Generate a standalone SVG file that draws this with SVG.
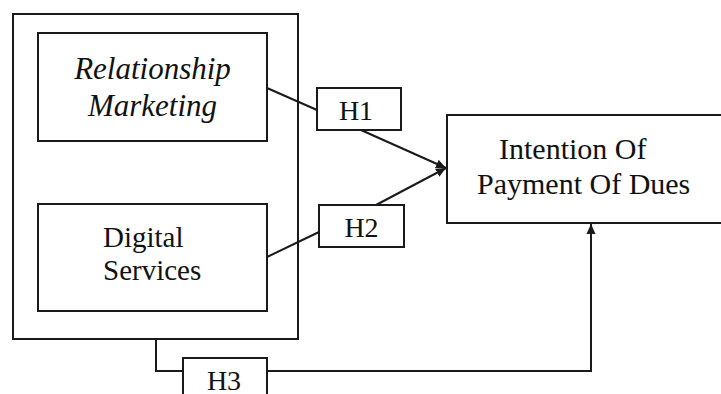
<svg xmlns="http://www.w3.org/2000/svg" width="721" height="394" viewBox="0 0 721 394">
  <style>
    .box { fill: #fff; stroke: #1a1a1a; stroke-width: 2; }
    .line { fill: none; stroke: #1a1a1a; stroke-width: 2; }
    .t { font-family: "Liberation Serif", "Times New Roman", serif; fill: #111; }
    .big { font-size: 29px; }
    .it { font-size: 31px; font-style: italic; }
    .h { font-size: 28px; }
    .int { font-size: 30px; }
  </style>
  <defs>
    <marker id="arr" viewBox="0 0 10 10" refX="10" refY="5" markerWidth="10" markerHeight="10" markerUnits="userSpaceOnUse" orient="auto">
      <path d="M0,0.5 L10,5 L0,9.5 Z" fill="#1a1a1a"/>
    </marker>
  </defs>
  <rect width="721" height="394" fill="#fff"/>

  <g id="group">
    <rect class="box" x="13" y="14" width="285" height="325"/>
  </g>

  <g id="relationship-marketing">
    <rect class="box" x="38" y="33" width="229" height="108"/>
    <text class="t it" x="152.5" y="79" text-anchor="middle">Relationship</text>
    <text class="t it" x="152.5" y="116" text-anchor="middle">Marketing</text>
  </g>

  <g id="digital-services">
    <rect class="box" x="38" y="204" width="229" height="107"/>
    <text class="t big" x="103" y="247">Digital</text>
    <text class="t big" x="103" y="280">Services</text>
  </g>

  <g id="intention">
    <path class="line" d="M723,115 H447 V223 H723"/>
    <text class="t int" x="499" y="159">Intention Of</text>
    <text class="t int" x="477" y="194">Payment Of Dues</text>
  </g>

  <g id="connectors">
    <path class="line" d="M267,88 L317,110"/>
    <path class="line" d="M361,130 L446,168" marker-end="url(#arr)"/>
    <path class="line" d="M267,257 L319,232"/>
    <path class="line" d="M376,205 L446,168" marker-end="url(#arr)"/>
    <path class="line" d="M156,339 V371 H183"/>
    <path class="line" d="M267,371 H591 V224" marker-end="url(#arr)"/>
  </g>

  <g id="h1">
    <rect class="box" x="317" y="88" width="84" height="42"/>
    <text class="t h" x="356" y="120" text-anchor="middle">H1</text>
  </g>
  <g id="h2">
    <rect class="box" x="319" y="205" width="85" height="42"/>
    <text class="t h" x="361.5" y="237" text-anchor="middle">H2</text>
  </g>
  <g id="h3">
    <rect class="box" x="183" y="358" width="84" height="42"/>
    <text class="t h" x="224" y="390" text-anchor="middle">H3</text>
  </g>
</svg>
